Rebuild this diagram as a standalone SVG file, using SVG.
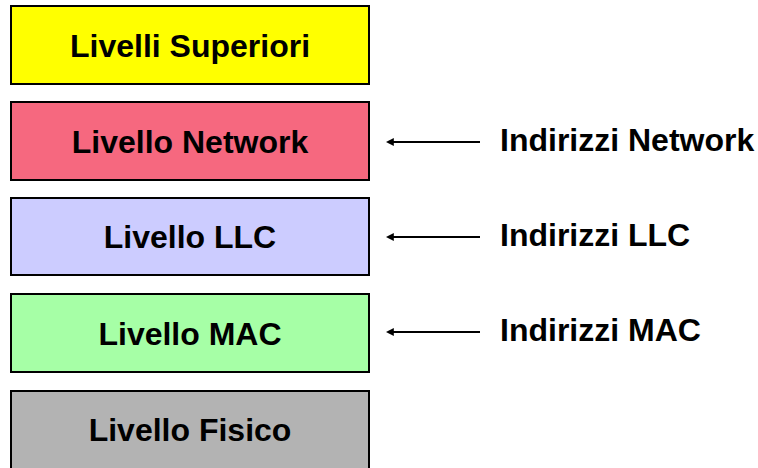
<svg xmlns="http://www.w3.org/2000/svg" width="758" height="468" viewBox="0 0 758 468">
  <style>
    .box { stroke: #000; stroke-width: 2; }
    .lbl { font-family: "Liberation Sans", Arial, sans-serif; font-weight: bold; font-size: 32px; fill: #000; }
    .mid { text-anchor: middle; }
    .conn { stroke: #000; stroke-width: 2; fill: none; }
  </style>
  <defs>
    <marker id="head" viewBox="0 0 10 10" refX="1" refY="5" markerWidth="4" markerHeight="4" orient="auto-start-reverse" markerUnits="strokeWidth">
      <path d="M0,0 L10,5 L0,10 z" fill="#000"/>
    </marker>
  </defs>
  <rect width="758" height="468" fill="#fff"/>

  <g id="livelli-superiori">
    <rect class="box" x="11" y="6" width="358" height="78" fill="#ffff00"/>
    <text class="lbl mid" x="190" y="57">Livelli Superiori</text>
  </g>
  <g id="livello-network">
    <rect class="box" x="11" y="102" width="358" height="78" fill="#f6687f"/>
    <text class="lbl mid" x="190" y="153">Livello Network</text>
  </g>
  <g id="livello-llc">
    <rect class="box" x="11" y="198" width="358" height="77" fill="#ccccff"/>
    <text class="lbl mid" x="190" y="248">Livello LLC</text>
  </g>
  <g id="livello-mac">
    <rect class="box" x="11" y="294" width="358" height="78" fill="#a6ffa6"/>
    <text class="lbl mid" x="190" y="345">Livello MAC</text>
  </g>
  <g id="livello-fisico">
    <rect class="box" x="11" y="391" width="358" height="78" fill="#b3b3b3"/>
    <text class="lbl mid" x="190" y="441">Livello Fisico</text>
  </g>

  <g id="indirizzi-network">
    <text class="lbl" x="500" y="151">Indirizzi Network</text>
  </g>
  <g id="indirizzi-llc">
    <text class="lbl" x="500" y="246">Indirizzi LLC</text>
  </g>
  <g id="indirizzi-mac">
    <text class="lbl" x="500" y="341">Indirizzi MAC</text>
  </g>

  <g id="connectors">
    <line class="conn" x1="480" y1="142" x2="393" y2="142" marker-end="url(#head)"/>
    <line class="conn" x1="480" y1="237" x2="393" y2="237" marker-end="url(#head)"/>
    <line class="conn" x1="480" y1="332" x2="393" y2="332" marker-end="url(#head)"/>
  </g>
</svg>
